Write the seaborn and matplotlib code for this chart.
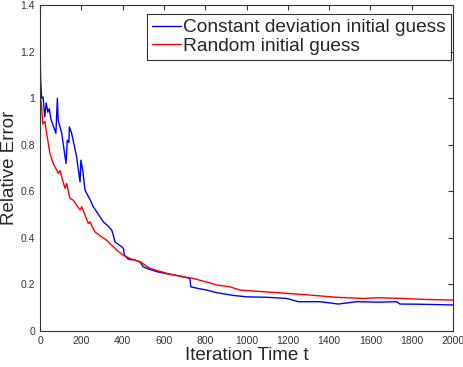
import pandas as pd
import matplotlib
matplotlib.use("Agg")
import matplotlib.pyplot as plt
import seaborn as sns

# blue curve: constant deviation initial guess
const_iter = [0, 3, 8, 15, 23, 30, 38, 45, 53, 77, 84, 88, 105, 126, 132, 140, 142, 153,
              177, 194, 198, 207, 218, 242, 258, 280, 307, 330, 347, 355, 363, 395, 404,
              409, 428, 460, 484, 500, 530, 565, 620, 680, 726, 730, 770, 807, 855, 936,
              1001, 1100, 1195, 1251, 1356, 1445, 1533, 1640, 1727, 1743, 1850, 2000]
const_err = [1.25, 1.08, 1.0, 1.005, 0.92, 0.98, 0.94, 0.955, 0.91, 0.85, 1.0, 0.905, 0.85,
             0.72, 0.82, 0.81, 0.877, 0.85, 0.75, 0.64, 0.734, 0.69, 0.605, 0.565, 0.534,
             0.505, 0.469, 0.45, 0.434, 0.412, 0.383, 0.362, 0.355, 0.326, 0.308, 0.305,
             0.296, 0.276, 0.265, 0.255, 0.245, 0.236, 0.226, 0.19, 0.182, 0.176, 0.165,
             0.153, 0.147, 0.145, 0.14, 0.126, 0.126, 0.116, 0.126, 0.124, 0.126, 0.116,
             0.115, 0.112]

# red curve: random initial guess
rand_iter = [0, 8, 13, 24, 32, 48, 64, 89, 97, 105, 121, 129, 145, 161, 194, 202, 234, 242,
             266, 290, 323, 371, 403, 440, 484, 533, 613, 680, 742, 800, 856, 920, 968,
             1081, 1195, 1300, 1437, 1566, 1630, 1760, 1856, 2000]
rand_err = [1.02, 0.963, 0.89, 0.9, 0.85, 0.763, 0.72, 0.677, 0.69, 0.662, 0.613, 0.634,
            0.57, 0.562, 0.52, 0.534, 0.462, 0.469, 0.426, 0.41, 0.39, 0.348, 0.326, 0.31,
            0.298, 0.269, 0.248, 0.235, 0.226, 0.212, 0.198, 0.19, 0.176, 0.169, 0.162,
            0.155, 0.145, 0.14, 0.143, 0.14, 0.136, 0.133]

labels = ["Constant deviation initial guess", "Random initial guess"]

df = pd.concat([
    pd.DataFrame({"t": const_iter, "err": const_err, "guess": labels[0]}),
    pd.DataFrame({"t": rand_iter, "err": rand_err, "guess": labels[1]}),
])

sns.set_style("white")
plt.rcParams["font.family"] = ["Liberation Sans", "DejaVu Sans"]

fig = plt.figure(figsize=(4.63, 3.67), dpi=100)
ax = fig.add_axes([0.0864, 0.098, 0.892, 0.888])

sns.lineplot(data=df, x="t", y="err", hue="guess", palette=["#0000ff", "#ff0000"],
             estimator=None, sort=False, linewidth=1.0, ax=ax)

ax.set_xlim(0, 2000)
ax.set_ylim(0, 1.4)
ax.set_xticks(range(0, 2001, 200))
ax.set_yticks([0, 0.2, 0.4, 0.6, 0.8, 1.0, 1.2, 1.4])
ax.set_yticklabels(["0", "0.2", "0.4", "0.6", "0.8", "1", "1.2", "1.4"])
ax.tick_params(direction="in", length=3.6, width=0.8, top=True, right=True,
               labelsize=7.5, colors="#333333", pad=3.5)
for s in ax.spines.values():
    s.set_color("#333333")
    s.set_linewidth(0.8)

ax.set_xlabel("Iteration Time t", fontsize=13.5, color="#262626", labelpad=1)
ax.set_ylabel("Relative Error", fontsize=13.5, color="#262626", labelpad=2)

leg = ax.legend(title=None, loc="upper right", bbox_to_anchor=(0.995, 0.972),
                fontsize=13.8, frameon=True, fancybox=False, borderpad=0.25,
                handlelength=1.5, handletextpad=0.15, labelspacing=0.05,
                borderaxespad=0)
leg.get_frame().set_edgecolor("black")
leg.get_frame().set_linewidth(0.8)

fig.savefig("out.png", dpi=100)
